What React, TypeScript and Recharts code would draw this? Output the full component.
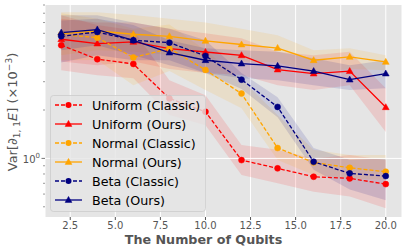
import React from "react";
import { ComposedChart, Line, Area, XAxis, YAxis, CartesianGrid, ReferenceLine } from "recharts";

// number of qubits on the x axis
const qubits = [2, 4, 6, 8, 10, 12, 14, 16, 18, 20];

// means (x1e-3)
const uniformClassic = [5.06, 4.14, 3.87, 2.36, 1.95, 0.976, 0.867, 0.769, 0.751, 0.692];
const uniformOurs = [5.51, 5.18, 5.3, 4.82, 4.59, 4.38, 3.57, 3.37, 3.49, 2.08];
const normalClassic = [5.89, 5.64, 4.24, 4.82, 3.55, 2.53, 1.16, 0.944, 0.874, 0.826];
const normalOurs = [5.98, 6.2, 5.92, 5.75, 5.38, 5.11, 4.86, 4.08, 4.28, 3.98];
const betaClassic = [5.75, 6.11, 5.43, 5.25, 4.34, 3.09, 2.09, 0.953, 0.807, 0.776];
const betaOurs = [6.06, 6.33, 5.43, 4.55, 4.08, 3.89, 3.76, 3.49, 3.09, 3.37];

// shaded spread, lower / upper
const uniformClassicLo = [3.53, 3.29, 3.15, 1.86, 1.61, 0.787, 0.7, 0.62, 0.58, 0.49];
const uniformClassicHi = [7.76, 6.76, 6.27, 3.06, 2.47, 1.21, 1.13, 1.0, 1.05, 0.976];
const uniformOursLo = [4.0, 3.8, 4.0, 3.6, 3.4, 3.3, 2.85, 2.66, 2.85, 1.46];
const uniformOursHi = [7.4, 7.0, 7.0, 6.4, 6.0, 5.6, 4.6, 4.38, 4.6, 2.73];
const normalClassicLo = [4.08, 4.1, 2.85, 3.5, 2.66, 2.05, 0.976, 0.787, 0.75, 0.733];
const normalClassicHi = [8.0, 7.4, 6.4, 6.8, 4.7, 3.1, 1.86, 1.13, 1.05, 1.05];
const normalOursLo = [4.38, 4.7, 4.6, 4.4, 4.2, 4.0, 3.95, 3.4, 3.6, 3.53];
const normalOursHi = [8.1, 8.1, 7.8, 7.4, 7.0, 6.4, 5.83, 4.7, 4.85, 4.38];
const betaClassicLo = [3.95, 4.38, 4.08, 4.08, 3.4, 2.7, 1.8, 0.85, 0.64, 0.55];
const betaClassicHi = [7.76, 7.76, 7.0, 6.4, 5.43, 3.4, 2.4, 1.16, 0.98, 1.0];
const betaOursLo = [4.7, 5.06, 4.38, 3.8, 3.4, 3.15, 3.06, 2.85, 2.66, 2.73];
const betaOursHi = [7.2, 7.4, 6.76, 5.43, 4.85, 4.7, 4.6, 4.2, 3.8, 4.08];

const xTicks = [2.5, 5, 7.5, 10, 12.5, 15, 17.5, 20];
const yTicks = [0.5, 0.6, 0.7, 0.8, 0.9, 1, 2, 3, 4, 5, 6, 7, 8, 9];

const series = [
  { key: "uc", name: "Uniform (Classic)", color: "#ff0000", dashed: true, tri: false, mean: uniformClassic, lo: uniformClassicLo, hi: uniformClassicHi },
  { key: "uo", name: "Uniform (Ours)", color: "#ff0000", dashed: false, tri: true, mean: uniformOurs, lo: uniformOursLo, hi: uniformOursHi },
  { key: "nc", name: "Normal (Classic)", color: "#ffa500", dashed: true, tri: false, mean: normalClassic, lo: normalClassicLo, hi: normalClassicHi },
  { key: "no", name: "Normal (Ours)", color: "#ffa500", dashed: false, tri: true, mean: normalOurs, lo: normalOursLo, hi: normalOursHi },
  { key: "bc", name: "Beta (Classic)", color: "#000080", dashed: true, tri: false, mean: betaClassic, lo: betaClassicLo, hi: betaClassicHi },
  { key: "bo", name: "Beta (Ours)", color: "#000080", dashed: false, tri: true, mean: betaOurs, lo: betaOursLo, hi: betaOursHi },
];

const rows = qubits.map((q, i) => {
  const r: any = { q };
  series.forEach((s) => {
    r[s.key] = s.mean[i];
    r[s.key + "Band"] = [s.lo[i], s.hi[i]];
  });
  return r;
});

const FONT = "DejaVu Sans";
const GREY = "#555555";

const tri = (cx: number, cy: number, color: string, k?: any) => (
  <polygon key={k} points={`${cx},${cy - 3.6} ${cx - 3.4},${cy + 2.4} ${cx + 3.4},${cy + 2.4}`} fill={color} stroke={color} strokeWidth={0.5} />
);

const YTick = (props: any) => {
  const { x, y, payload } = props;
  const major = payload.value === 1;
  return (
    <g>
      <line x1={x - (major ? 3.5 : 2)} x2={x} y1={y} y2={y} stroke={GREY} strokeWidth={major ? 0.8 : 0.6} />
      {major && (
        <text x={x - 5} y={y + 4.5} textAnchor="end" fill={GREY} fontSize={10} fontFamily={FONT}>
          10<tspan dy={-4.5} fontSize={7}>0</tspan>
        </text>
      )}
    </g>
  );
};

function LegendBox() {
  return (
    <svg width={407} height={252} style={{ position: "absolute", left: 0, top: 0, pointerEvents: "none" }}>
      <rect x={50.5} y={95.5} width={155} height={116} rx={3} fill="#e5e5e5" fillOpacity={0.8} stroke="#cccccc" strokeOpacity={0.8} />
      {series.map((s, i) => {
        const cy = 105 + i * 19;
        return (
          <g key={s.key}>
            <line x1={55} x2={82} y1={cy} y2={cy} stroke={s.color} strokeWidth={1.3} strokeDasharray={s.dashed ? "4 2" : undefined} />
            {s.tri ? tri(68.5, cy, s.color) : <circle cx={68.5} cy={cy} r={3} fill={s.color} />}
            <text x={92} y={cy + 4.5} fontSize={12.7} fontFamily={FONT} fill="#000">{s.name}</text>
          </g>
        );
      })}
    </svg>
  );
}

export default function App() {
  return (
    <div style={{ position: "absolute", left: 0, top: 0, width: 407, height: 252, background: "#fff" }}>
      <ComposedChart width={407} height={252} data={rows} margin={{ top: 5, right: 5, bottom: 0, left: 0 }}>
        <CartesianGrid fill="#e5e5e5" stroke="#ffffff" strokeWidth={1} horizontal={false} />
        <ReferenceLine y={1} stroke="#ffffff" strokeWidth={1} />
        <XAxis
          dataKey="q"
          type="number"
          domain={[1.1, 20.9]}
          ticks={xTicks}
          interval={0}
          allowDataOverflow
          axisLine={false}
          tickSize={3}
          tickMargin={2}
          tickLine={{ stroke: GREY }}
          tick={{ fill: GREY, fontSize: 10, fontFamily: FONT }}
          tickFormatter={(v: number) => v.toFixed(1)}
          height={35}
        />
        <YAxis
          scale="log"
          type="number"
          domain={[0.432, 9.0]}
          ticks={yTicks}
          interval={0}
          allowDataOverflow
          axisLine={false}
          tickLine={false}
          tickSize={0}
          tickMargin={0}
          tick={<YTick />}
          width={45}
        />
        {series.map((s) => (
          <Area
            key={s.key + "Band"}
            dataKey={s.key + "Band"}
            type="linear"
            stroke="none"
            fill={s.color}
            fillOpacity={0.12}
            isAnimationActive={false}
            activeDot={false}
            legendType="none"
          />
        ))}
        {series.map((s) => (
          <Line
            key={s.key}
            dataKey={s.key}
            name={s.name}
            type="linear"
            stroke={s.color}
            strokeWidth={1.3}
            strokeDasharray={s.dashed ? "4 2" : undefined}
            isAnimationActive={false}
            activeDot={false}
            dot={
              s.tri
                ? (p: any) => tri(p.cx, p.cy, s.color, `${s.key}-${p.index}`)
                : { r: 3, fill: s.color, stroke: s.color, strokeWidth: 0.5, strokeDasharray: "" }
            }
          />
        ))}
      </ComposedChart>
      <svg width={407} height={252} style={{ position: "absolute", left: 0, top: 0, pointerEvents: "none" }}>
        <text x={203.5} y={244} textAnchor="middle" fontSize={12.7} fontWeight="bold" fontFamily={FONT} fill={GREY}>
          The Number of Qubits
        </text>
        <text transform="translate(17,112) rotate(-90)" textAnchor="middle" fontSize={13} fontFamily={FONT} fill={GREY}>
          Var[∂<tspan dy={3} fontSize={9}>1, 1</tspan><tspan dy={-3} fontStyle="italic">E</tspan><tspan>] (×10</tspan><tspan dy={-5} fontSize={9}>−3</tspan><tspan dy={5}>)</tspan>
        </text>
      </svg>
      <LegendBox />
    </div>
  );
}
